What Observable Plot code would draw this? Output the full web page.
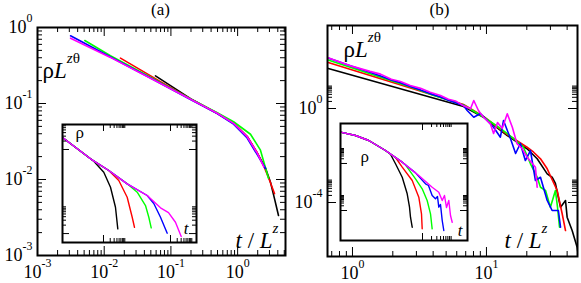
<!DOCTYPE html>
<html><head><meta charset="utf-8">
<script src="https://cdn.jsdelivr.net/npm/d3@7"></script>
<script src="https://cdn.jsdelivr.net/npm/@observablehq/plot@0.6"></script>
<style>
html,body{margin:0;padding:0;background:#fff;}
#wrap{position:relative;width:581px;height:283px;overflow:hidden;background:#fff;}
#wrap svg{position:absolute;overflow:visible;background:transparent !important;}
#wrap svg text{font-family:"Liberation Serif","Times New Roman",serif;}
</style></head><body><div id="wrap"></div>
<script>
// ---------- Panel (a) main: t/L^z vs rho L^{z theta}
const aBlackT = [0.0587, 0.197, 0.494, 0.869, 1.39, 1.97, 2.62, 3.11, 3.57, 4.1];
const aBlackR = [0.2306, 0.116, 0.0745, 0.0552, 0.0368, 0.0222, 0.0141, 0.0092, 0.0056, 0.00336];
const aRedT = [0.01754, 0.0698, 0.197, 0.494, 0.869, 1.39, 1.97, 2.47, 2.94, 3.57];
const aRedR = [0.395, 0.194, 0.1145, 0.0745, 0.0552, 0.0368, 0.0225, 0.015, 0.0103, 0.00653];
const aGreenT = [0.00512, 0.0124, 0.0494, 0.197, 0.494, 0.869, 1.56, 2.2, 2.9];
const aGreenR = [0.674, 0.425, 0.222, 0.115, 0.0755, 0.0575, 0.0394, 0.0243, 0.0104];
const aBlueT = [0.00313, 0.0124, 0.0494, 0.197, 0.494, 0.869, 1.39, 1.97, 2.62];
const aBlueR = [0.777, 0.41, 0.216, 0.113, 0.0735, 0.0535, 0.0352, 0.0212, 0.01396];
const aMagT = [0.00313, 0.0124, 0.0494, 0.197, 0.494, 0.869, 1.39, 1.97, 2.47];
const aMagR = [0.724, 0.404, 0.215, 0.1136, 0.0743, 0.0548, 0.0365, 0.0222, 0.0147];

// ---------- Panel (a) inset: t vs rho
const iaBlackT = [1.41, 26.2, 36.8, 103, 206, 344, 437];
const iaBlackR = [2.75, 0.466, 0.382, 0.155, 0.0451, 0.00869, 0.00147];
const iaRedT = [1.41, 26.2, 173, 484, 1150, 1930, 2440];
const iaRedR = [2.75, 0.466, 0.178, 0.0781, 0.0198, 0.00382, 0.00168];
const iaGreenT = [1.41, 26.2, 173, 1150, 3230, 7600, 10700, 13700];
const iaGreenR = [2.75, 0.466, 0.178, 0.0596, 0.0299, 0.01, 0.00382, 0.0016];
const iaBlueT = [1.41, 26.2, 173, 1150, 9060, 17900, 35700, 71300];
const iaBlueR = [2.75, 0.466, 0.178, 0.0596, 0.0228, 0.0118, 0.00382, 0.00103];
const iaMagT = [1.41, 26.2, 173, 1150, 9060, 35700, 81500, 167000, 302000];
const iaMagR = [2.75, 0.466, 0.178, 0.0596, 0.0228, 0.00828, 0.00562, 0.00254, 0.000782];

// ---------- Panel (b) main
const bBlackT = [0.65, 6.74, 9.5, 14.3, 20.1, 23.9, 28.4, 30.9, 32.7, 35.7, 38.9, 40.0, 43.6, 47.5, 48.6];
const bBlackR = [51.9, 1.22, 0.426, 0.071, 0.0193, 0.00724, 0.00166, 0.00119, 0.000645, 6.3e-5, 1.22e-4, 2.37e-5, 6.4e-6, 1.26e-6, 5e-7];
const bRedT = [0.65, 2.0, 6.74, 9.5, 14.3, 20.1, 22.5, 25.3, 28.4, 33.7, 36.7, 38.9];
const bRedR = [93.3, 12.8, 1.48, 0.457, 0.0783, 0.0225, 0.0138, 0.00724, 0.00272, 0.000324, 3.4e-5, 6.4e-6];
const bGreenT = [0.65, 2.0, 3.0, 4.0, 5.3, 6.74, 9.5, 12.7, 15.9, 18.9, 21.3, 23.9, 25.3, 27.6, 30.0, 32.7, 33.9, 35.1];
const bGreenR = [118, 14.5, 6.8, 3.7, 2.2, 1.41, 0.435, 0.141, 0.0529, 0.0225, 0.00443, 0.00119, 0.000447, 0.000324, 6.3e-5, 0.000324, 6.3e-5, 8.9e-6];
const bBlueT = [0.65, 1.0, 1.35, 1.62, 1.95, 2.28, 2.7, 3.22, 3.8, 4.54, 5.2, 5.87, 6.74, 7.18, 8.04, 9.02, 11.3, 12.7, 13.4, 15.1, 16.5, 17.9, 19.5, 21.3, 23.2, 25.3, 28.4, 30.9, 34.4, 35.7];
const bBlueR = [144, 61, 34.5, 24, 16.5, 12.5, 8.6, 6.2, 4.3, 3.1, 2.25, 1.75, 1.34, 0.822, 0.426, 0.612, 0.160, 0.0601, 0.308, 0.0529, 0.0122, 0.0324, 0.00612, 0.0163, 0.000863, 0.00119, 0.000122, 4.57e-5, 4.57e-5, 8.9e-6];
const bMagT = [0.65, 1.0, 1.35, 1.62, 1.95, 2.28, 2.7, 3.22, 3.8, 4.54, 5.2, 5.87, 6.74, 7.6, 8.04, 8.71, 9.5, 10.7, 11.3, 12.1, 13.1, 14.3, 15.6, 16.9, 18.5, 20.1, 23.2, 23.9];
const bMagR = [148, 62, 38, 29, 17.5, 14, 9.5, 7.2, 4.9, 3.6, 2.5, 2.1, 1.3, 0.97, 2.19, 0.822, 0.426, 0.223, 0.0863, 0.254, 0.141, 0.594, 0.16, 0.0315, 0.0193, 0.00847, 0.00316, 0.000447];

// ---------- Panel (b) inset
const ibBlackT = [1.85, 5.84, 16.2, 58.4, 85.8, 126, 211, 309, 369, 398, 454];
const ibBlackR = [99.3, 61.1, 29.3, 6.75, 3.9, 0.955, 0.133, 0.0116, 0.00163, 0.000373, 8.6e-5];
const ibRedT = [1.85, 5.84, 16.2, 58.4, 126, 211, 454, 753, 926, 977];
const ibRedR = [99.3, 61.1, 29.3, 6.75, 2.41, 0.579, 0.0822, 0.00706, 0.000615, 6.8e-5];
const ibGreenT = [1.85, 5.84, 16.2, 58.4, 211, 271, 585, 977, 1430, 1850, 2100];
const ibGreenR = [99.3, 61.1, 29.3, 6.75, 1.21, 0.824, 0.105, 0.0243, 0.00435, 0.000615, 6.8e-5];
const ibBlueT = [1.85, 5.84, 16.2, 58.4, 211, 585, 1260, 1580, 2100, 2710, 3160, 3490, 3980, 4540, 5130];
const ibBlueR = [99.3, 61.1, 29.3, 6.75, 1.21, 0.251, 0.0506, 0.0394, 0.00906, 0.00558, 0.00783, 0.00163, 0.00242, 0.00023, 5.3e-5];
const ibMagT = [1.85, 5.84, 16.2, 58.4, 211, 753, 2100, 3490, 4540, 5410, 6310, 7530, 8580, 9770];
const ibMagR = [99.3, 61.1, 29.3, 6.75, 1.21, 0.171, 0.0307, 0.0147, 0.00435, 0.00906, 0.00155, 0.00435, 0.000479, 0.000178];

// ---------- ticks and labels
const aXMajor = [1e-3, 1e-2, 1e-1, 1];
const aYMajor = [1e-3, 1e-2, 1e-1, 1];
const bXMajor = [1, 10];
const bYMajor = [1e-4, 1];
const iaXMajor = [100, 1e5];
const iaYMajor = [1e-3, 1];
const ibXMajor = [1000];
const ibYMajor = [1e-3, 1];
const aXMinorBase = [1e-3, 1e-2, 1e-1, 1];
const aYMinorBase = [1e-3, 1e-2, 1e-1];
const bXMinorBase = [0.1, 1, 10];
const bYMinorBase = [1e-4, 1];
const iaXMinorBase = [100, 1e5];
const iaYMinorBase = [1e-3, 1];
const ibXMinorBase = [1000];
const ibYMinorBase = [1e-3, 1];
const panelTitles = ["(a)", "(b)"];
const yTitle = "ρLzθ";
const xTitle = "t / Lz";

const COLOR = {black: "#000000", red: "#ff0000", green: "#00ff00", blue: "#0000ff", magenta: "#ff00ff"};
const ORDER = ["black", "red", "green", "blue", "magenta"];

function rows(T, R) { return T.map((t, i) => ({t, r: R[i]})); }
function minors(bases, dom) {
  const out = [];
  for (const b of bases) for (let m = 2; m <= 9; m++) {
    const v = m * b;
    if (v > dom[0] && v < dom[1]) out.push(v);
  }
  return out;
}
const fmt = d => "10^" + Math.round(Math.log10(d));

function lines(series, sw) {
  return ORDER.map(k => Plot.line(rows(series[k][0], series[k][1]),
    {x: "t", y: "r", stroke: COLOR[k], strokeWidth: sw, clip: true}));
}
function tickSet(xMaj, xMin, yMaj, yMin, W, H, maj, mn, sw) {
  const o = {stroke: "#000", strokeWidth: sw};
  return [
    Plot.tickX(xMaj, {...o, x: d => d, insetTop: H - maj}),
    Plot.tickX(xMaj, {...o, x: d => d, insetBottom: H - maj}),
    Plot.tickX(xMin, {...o, x: d => d, insetTop: H - mn}),
    Plot.tickX(xMin, {...o, x: d => d, insetBottom: H - mn}),
    Plot.tickY(yMaj, {...o, y: d => d, insetRight: W - maj}),
    Plot.tickY(yMaj, {...o, y: d => d, insetLeft: W - maj}),
    Plot.tickY(yMin, {...o, y: d => d, insetRight: W - mn}),
    Plot.tickY(yMin, {...o, y: d => d, insetLeft: W - mn})
  ];
}
function label(txt, opts) {
  return Plot.text([txt], {text: d => d, lineAnchor: "bottom", fill: "#000", ...opts});
}

const RICH = {
  "ρLzθ": [["ρ", ""], ["L", "i"], ["z", "is"], ["θ", "s"]],
  "t / Lz": [["t", "i"], [" / ", ""], ["L", "i"], ["z", "is"]],
  "t": [["t", "i"]]
};
function enrich(svg) {
  svg.querySelectorAll("text").forEach(el => {
    const s = el.textContent;
    let segs = RICH[s];
    const m = /^10\^(-?\d+)$/.exec(s);
    if (m) segs = [["10", ""], [m[1], "s"]];
    if (!segs) return;
    const fs = parseFloat(getComputedStyle(el).fontSize);
    el.textContent = "";
    let up = false;
    for (const [txt, f] of segs) {
      const ts = document.createElementNS("http://www.w3.org/2000/svg", "tspan");
      ts.textContent = txt;
      const sup = f.includes("s");
      if (f.includes("i")) ts.style.fontStyle = "italic";
      if (sup) ts.setAttribute("font-size", (fs * 0.66).toFixed(1));
      if (sup && !up) ts.setAttribute("dy", (-fs * 0.62).toFixed(1));
      if (!sup && up) ts.setAttribute("dy", (fs * 0.62).toFixed(1));
      up = sup;
      el.appendChild(ts);
    }
  });
}

const wrap = document.getElementById("wrap");
function place(svg, left, top) {
  svg.style.left = left + "px";
  svg.style.top = top + "px";
  svg.setAttribute("font-family", "Liberation Serif, Times New Roman, serif");
  wrap.appendChild(svg);
  enrich(svg);
}
const baseStyle = "font-family: 'Liberation Serif', 'Times New Roman', serif; font-size: 18px; background: transparent; overflow: visible;";

// ---------------- Panel (a)
{
  const W = 290, H = 283, mL = 37, mR = 5, mT = 27, mB = 28;
  const xd = [1e-3, 5.22], yd = [1e-3, 1];
  const svg = Plot.plot({
    width: W, height: H, marginLeft: mL, marginRight: mR, marginTop: mT, marginBottom: mB,
    x: {type: "log", domain: xd, axis: null}, y: {type: "log", domain: yd, axis: null},
    style: baseStyle,
    marks: [
      ...lines({black: [aBlackT, aBlackR], red: [aRedT, aRedR], green: [aGreenT, aGreenR], blue: [aBlueT, aBlueR], magenta: [aMagT, aMagR]}, 1.6),
      ...tickSet(aXMajor, minors(aXMinorBase, xd), aYMajor, minors(aYMinorBase, yd), W - mL - mR, H - mT - mB, 9, 5, 1),
      Plot.frame({stroke: "#000", strokeWidth: 2}),
      Plot.axisX({ticks: aXMajor, tickFormat: fmt, tickSize: 0, tickPadding: 10, fontSize: 18, label: null, anchor: "bottom"}),
      Plot.axisY({ticks: aYMajor, tickFormat: fmt, tickSize: 0, tickPadding: 5, fontSize: 18, label: null, anchor: "left"}),
      label(panelTitles[0], {frameAnchor: "top", dx: -1, dy: -13, fontSize: 17}),
      label(yTitle, {frameAnchor: "top-left", textAnchor: "start", dx: 5, dy: 50, fontSize: 23}),
      label(xTitle, {frameAnchor: "bottom-right", textAnchor: "end", dx: -7, dy: -8, fontSize: 23})
    ]
  });
  place(svg, 0, 0);
}
// ---------------- Panel (a) inset
{
  const m = 4, W = 142, H = 126;
  const xd = [1.46, 1.46e6], yd = [4.8e-4, 7.8];
  const svg = Plot.plot({
    width: W, height: H, marginLeft: m, marginRight: m, marginTop: m, marginBottom: m,
    x: {type: "log", domain: xd, axis: null}, y: {type: "log", domain: yd, axis: null},
    style: baseStyle,
    marks: [
      Plot.frame({fill: "#fff"}),
      ...lines({black: [iaBlackT, iaBlackR], red: [iaRedT, iaRedR], green: [iaGreenT, iaGreenR], blue: [iaBlueT, iaBlueR], magenta: [iaMagT, iaMagR]}, 1.4),
      ...tickSet(iaXMajor, minors(iaXMinorBase, xd), iaYMajor, minors(iaYMinorBase, yd), W - 2 * m, H - 2 * m, 7, 4, 1),
      Plot.frame({stroke: "#000", strokeWidth: 2}),
      label("ρ", {frameAnchor: "top-left", textAnchor: "start", dx: 13, dy: 13, fontSize: 17}),
      label("t", {frameAnchor: "bottom-right", textAnchor: "end", dx: -8, dy: -9, fontSize: 17})
    ]
  });
  place(svg, 58, 120);
}
// ---------------- Panel (b)
{
  const W = 291, H = 283, mL = 37, mR = 4, mT = 25, mB = 27;
  const xd = [0.651, 47.8], yd = [5.04e-7, 3404];
  const svg = Plot.plot({
    width: W, height: H, marginLeft: mL, marginRight: mR, marginTop: mT, marginBottom: mB,
    x: {type: "log", domain: xd, axis: null}, y: {type: "log", domain: yd, axis: null},
    style: baseStyle,
    marks: [
      ...lines({black: [bBlackT, bBlackR], red: [bRedT, bRedR], green: [bGreenT, bGreenR], blue: [bBlueT, bBlueR], magenta: [bMagT, bMagR]}, 1.6),
      ...tickSet(bXMajor, minors(bXMinorBase, xd), bYMajor, minors(bYMinorBase, yd), W - mL - mR, H - mT - mB, 9, 5, 1),
      Plot.frame({stroke: "#000", strokeWidth: 2}),
      Plot.axisX({ticks: bXMajor, tickFormat: fmt, tickSize: 0, tickPadding: 10, fontSize: 18, label: null, anchor: "bottom"}),
      Plot.axisY({ticks: bYMajor, tickFormat: fmt, tickSize: 0, tickPadding: 5, fontSize: 18, label: null, anchor: "left"}),
      label(panelTitles[1], {frameAnchor: "top", dx: -13, dy: -11, fontSize: 17}),
      label(yTitle, {frameAnchor: "top-left", textAnchor: "start", dx: 16, dy: 31, fontSize: 23}),
      label(xTitle, {frameAnchor: "bottom-right", textAnchor: "end", dx: -30, dy: -9, fontSize: 23})
    ]
  });
  place(svg, 290, 0);
}
// ---------------- Panel (b) inset
{
  const m = 4, W = 135, H = 125;
  const xd = [1.85, 31600], yd = [1.22e-5, 355];
  const svg = Plot.plot({
    width: W, height: H, marginLeft: m, marginRight: m, marginTop: m, marginBottom: m,
    x: {type: "log", domain: xd, axis: null}, y: {type: "log", domain: yd, axis: null},
    style: baseStyle,
    marks: [
      Plot.frame({fill: "#fff"}),
      ...lines({black: [ibBlackT, ibBlackR], red: [ibRedT, ibRedR], green: [ibGreenT, ibGreenR], blue: [ibBlueT, ibBlueR], magenta: [ibMagT, ibMagR]}, 1.4),
      ...tickSet(ibXMajor, minors(ibXMinorBase, xd), ibYMajor, minors(ibYMinorBase, yd), W - 2 * m, H - 2 * m, 7, 4, 1),
      Plot.frame({stroke: "#000", strokeWidth: 2}),
      label("ρ", {frameAnchor: "top-left", textAnchor: "start", dx: 20, dy: 38, fontSize: 17}),
      label("t", {frameAnchor: "bottom-right", textAnchor: "end", dx: -5, dy: -5, fontSize: 17})
    ]
  });
  place(svg, 336, 119);
}
</script></body></html>
